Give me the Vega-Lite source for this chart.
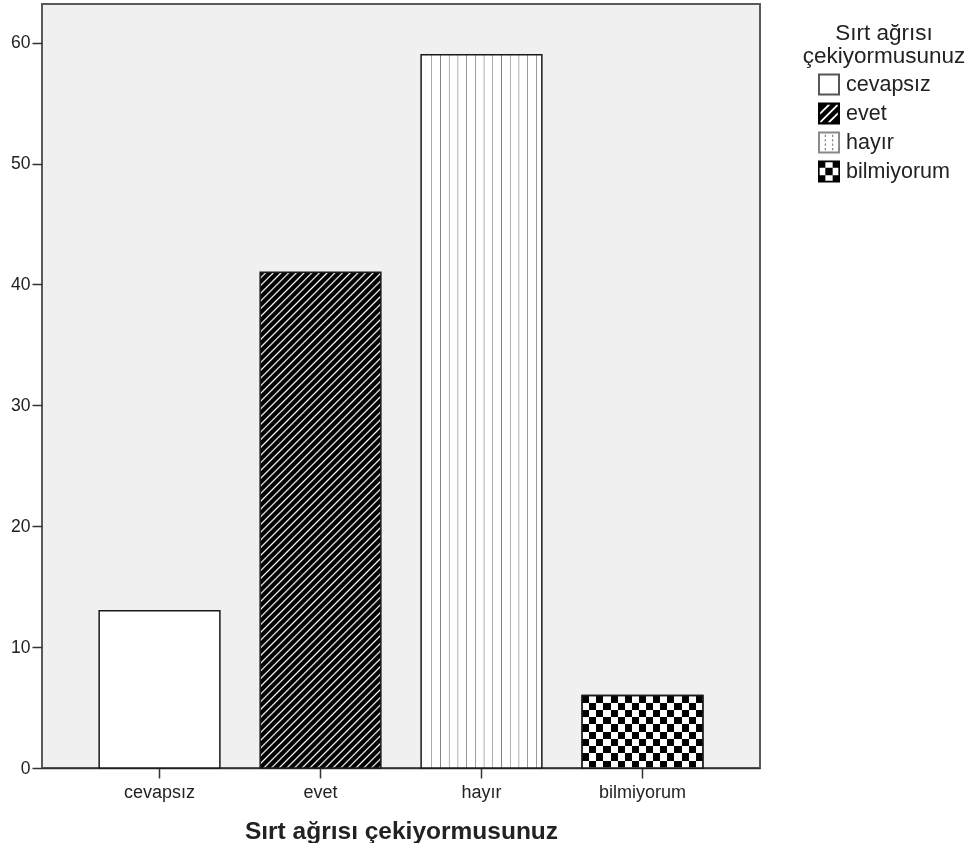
{
  "$schema": "https://vega.github.io/schema/vega-lite/v6.json",
  "width": 718,
  "height": 764,
  "padding": {"left": 10, "top": 4, "right": 0, "bottom": 0},
  "data": {
    "values": [
      {"cevap": "cevapsız", "frekans": 13},
      {"cevap": "evet", "frekans": 41},
      {"cevap": "hayır", "frekans": 59},
      {"cevap": "bilmiyorum", "frekans": 6}
    ]
  },
  "encoding": {
    "x": {
      "field": "cevap",
      "type": "nominal",
      "sort": ["cevapsız", "evet", "hayır", "bilmiyorum"],
      "scale": {"paddingInner": 0.25, "paddingOuter": 0.355},
      "axis": {
        "title": "Sırt ağrısı çekiyormusunuz",
        "titleFontSize": 24.5,
        "titleFontWeight": "bold",
        "titleColor": "#222222",
        "titlePadding": 18,
        "labelAngle": 0,
        "labelFontSize": 18,
        "labelColor": "#222222",
        "labelPadding": 5,
        "tickSize": 10,
        "tickWidth": 1.5,
        "tickColor": "#333333",
        "domainColor": "#333333",
        "domainWidth": 1.5
      }
    },
    "y": {
      "field": "frekans",
      "type": "quantitative",
      "scale": {"domain": [0, 63.2], "nice": false},
      "axis": {
        "title": null,
        "values": [0, 10, 20, 30, 40, 50, 60],
        "labelFontSize": 17.5,
        "labelColor": "#222222",
        "labelPadding": 2,
        "tickSize": 10,
        "tickWidth": 1.5,
        "tickColor": "#333333",
        "domain": false,
        "grid": false
      }
    }
  },
  "layer": [
    {
      "mark": {"type": "point", "filled": true, "opacity": 1, "size": 484, "strokeWidth": 0, "clip": true},
      "encoding": {
        "y": {"datum": 0, "type": "quantitative"},
        "fill": {
          "field": "cevap",
          "type": "nominal",
          "scale": {
            "domain": ["cevapsız", "evet", "hayır", "bilmiyorum"],
            "range": ["#555555", "#000000", "#8a8a8a", "#000000"]
          },
          "legend": {
            "title": ["Sırt ağrısı", "çekiyormusunuz"],
            "orient": "none",
            "legendX": 761,
            "legendY": 18,
            "direction": "vertical",
            "padding": 0,
            "titleFontSize": 22.5,
            "titleFontWeight": "normal",
            "titleColor": "#222222",
            "titleLineHeight": 23,
            "titleAnchor": "middle",
            "titleAlign": "center",
            "titlePadding": 6,
            "labelFontSize": 21.5,
            "labelColor": "#222222",
            "labelOffset": 6,
            "symbolSize": 484,
            "symbolOpacity": 1,
            "symbolStrokeWidth": 0,
            "rowPadding": 7
          }
        },
        "shape": {
          "field": "cevap",
          "type": "nominal",
          "scale": {
            "domain": ["cevapsız", "evet", "hayır", "bilmiyorum"],
            "range": [
              "M-1,-1H1V1H-1Z M-0.82,-0.82V0.82H0.82V-0.82Z",
              "M-1,-1H1V1H-1Z M-0.8,0.12L0.12,-0.8L-0.12,-0.8L-0.8,-0.12Z M-0.8,0.8L-0.68,0.8L0.8,-0.68L0.8,-0.8L0.68,-0.8L-0.8,0.68Z M0.12,0.8L0.8,0.12L0.8,-0.12L-0.12,0.8Z",
              "M-1,-1H1V1H-1Z M-0.82,-0.82V0.82H0.82V-0.82Z M-0.39,-0.7H-0.27V-0.5H-0.39Z M-0.39,-0.3H-0.27V-0.1H-0.39Z M-0.39,0.1H-0.27V0.3H-0.39Z M-0.39,0.5H-0.27V0.7H-0.39Z M0.27,-0.7H0.39V-0.5H0.27Z M0.27,-0.3H0.39V-0.1H0.27Z M0.27,0.1H0.39V0.3H0.27Z M0.27,0.5H0.39V0.7H0.27Z",
              "M-1,-1H1V1H-1Z M-0.85,-0.85V0.85H0.85V-0.85Z M-1,-1H-0.333V-0.333H-1Z M0.333,-1H1V-0.333H0.333Z M-0.333,-0.333H0.333V0.333H-0.333Z M-1,0.333H-0.333V1H-1Z M0.333,0.333H1V1H0.333Z"
            ]
          },
          "legend": {"title": ["Sırt ağrısı", "çekiyormusunuz"]}
        }
      }
    },
    {
      "mark": {"type": "bar", "stroke": "#1a1a1a", "strokeWidth": 1.5},
      "encoding": {
        "fill": {
          "condition": [
            {
              "test": "datum.cevap === 'evet'",
              "value": {
                "gradient": "linear", "x1": 0, "y1": 0, "x2": 0.2866, "y2": 1.174,
                "stops": [
                  {"offset":0,"color":"#000"},{"offset":0.007,"color":"#000"},{"offset":0.0097,"color":"#fff"},
                  {"offset":0.0125,"color":"#000"},{"offset":0.0195,"color":"#000"},{"offset":0.0222,"color":"#fff"},
                  {"offset":0.025,"color":"#000"},{"offset":0.032,"color":"#000"},{"offset":0.0347,"color":"#fff"},
                  {"offset":0.0375,"color":"#000"},{"offset":0.0445,"color":"#000"},{"offset":0.0472,"color":"#fff"},
                  {"offset":0.05,"color":"#000"},{"offset":0.057,"color":"#000"},{"offset":0.0597,"color":"#fff"},
                  {"offset":0.0625,"color":"#000"},{"offset":0.0695,"color":"#000"},{"offset":0.0722,"color":"#fff"},
                  {"offset":0.075,"color":"#000"},{"offset":0.082,"color":"#000"},{"offset":0.0847,"color":"#fff"},
                  {"offset":0.0875,"color":"#000"},{"offset":0.0945,"color":"#000"},{"offset":0.0972,"color":"#fff"},
                  {"offset":0.1,"color":"#000"},{"offset":0.107,"color":"#000"},{"offset":0.1097,"color":"#fff"},
                  {"offset":0.1125,"color":"#000"},{"offset":0.1195,"color":"#000"},{"offset":0.1222,"color":"#fff"},
                  {"offset":0.125,"color":"#000"},{"offset":0.132,"color":"#000"},{"offset":0.1347,"color":"#fff"},
                  {"offset":0.1375,"color":"#000"},{"offset":0.1445,"color":"#000"},{"offset":0.1472,"color":"#fff"},
                  {"offset":0.15,"color":"#000"},{"offset":0.157,"color":"#000"},{"offset":0.1597,"color":"#fff"},
                  {"offset":0.1625,"color":"#000"},{"offset":0.1695,"color":"#000"},{"offset":0.1722,"color":"#fff"},
                  {"offset":0.175,"color":"#000"},{"offset":0.182,"color":"#000"},{"offset":0.1847,"color":"#fff"},
                  {"offset":0.1875,"color":"#000"},{"offset":0.1945,"color":"#000"},{"offset":0.1972,"color":"#fff"},
                  {"offset":0.2,"color":"#000"},{"offset":0.207,"color":"#000"},{"offset":0.2097,"color":"#fff"},
                  {"offset":0.2125,"color":"#000"},{"offset":0.2195,"color":"#000"},{"offset":0.2222,"color":"#fff"},
                  {"offset":0.225,"color":"#000"},{"offset":0.232,"color":"#000"},{"offset":0.2347,"color":"#fff"},
                  {"offset":0.2375,"color":"#000"},{"offset":0.2445,"color":"#000"},{"offset":0.2472,"color":"#fff"},
                  {"offset":0.25,"color":"#000"},{"offset":0.257,"color":"#000"},{"offset":0.2597,"color":"#fff"},
                  {"offset":0.2625,"color":"#000"},{"offset":0.2695,"color":"#000"},{"offset":0.2722,"color":"#fff"},
                  {"offset":0.275,"color":"#000"},{"offset":0.282,"color":"#000"},{"offset":0.2847,"color":"#fff"},
                  {"offset":0.2875,"color":"#000"},{"offset":0.2945,"color":"#000"},{"offset":0.2972,"color":"#fff"},
                  {"offset":0.3,"color":"#000"},{"offset":0.307,"color":"#000"},{"offset":0.3097,"color":"#fff"},
                  {"offset":0.3125,"color":"#000"},{"offset":0.3195,"color":"#000"},{"offset":0.3222,"color":"#fff"},
                  {"offset":0.325,"color":"#000"},{"offset":0.332,"color":"#000"},{"offset":0.3347,"color":"#fff"},
                  {"offset":0.3375,"color":"#000"},{"offset":0.3445,"color":"#000"},{"offset":0.3472,"color":"#fff"},
                  {"offset":0.35,"color":"#000"},{"offset":0.357,"color":"#000"},{"offset":0.3597,"color":"#fff"},
                  {"offset":0.3625,"color":"#000"},{"offset":0.3695,"color":"#000"},{"offset":0.3722,"color":"#fff"},
                  {"offset":0.375,"color":"#000"},{"offset":0.382,"color":"#000"},{"offset":0.3847,"color":"#fff"},
                  {"offset":0.3875,"color":"#000"},{"offset":0.3945,"color":"#000"},{"offset":0.3972,"color":"#fff"},
                  {"offset":0.4,"color":"#000"},{"offset":0.407,"color":"#000"},{"offset":0.4097,"color":"#fff"},
                  {"offset":0.4125,"color":"#000"},{"offset":0.4195,"color":"#000"},{"offset":0.4222,"color":"#fff"},
                  {"offset":0.425,"color":"#000"},{"offset":0.432,"color":"#000"},{"offset":0.4347,"color":"#fff"},
                  {"offset":0.4375,"color":"#000"},{"offset":0.4445,"color":"#000"},{"offset":0.4472,"color":"#fff"},
                  {"offset":0.45,"color":"#000"},{"offset":0.457,"color":"#000"},{"offset":0.4597,"color":"#fff"},
                  {"offset":0.4625,"color":"#000"},{"offset":0.4695,"color":"#000"},{"offset":0.4722,"color":"#fff"},
                  {"offset":0.475,"color":"#000"},{"offset":0.482,"color":"#000"},{"offset":0.4847,"color":"#fff"},
                  {"offset":0.4875,"color":"#000"},{"offset":0.4945,"color":"#000"},{"offset":0.4972,"color":"#fff"},
                  {"offset":0.5,"color":"#000"},{"offset":0.507,"color":"#000"},{"offset":0.5097,"color":"#fff"},
                  {"offset":0.5125,"color":"#000"},{"offset":0.5195,"color":"#000"},{"offset":0.5222,"color":"#fff"},
                  {"offset":0.525,"color":"#000"},{"offset":0.532,"color":"#000"},{"offset":0.5347,"color":"#fff"},
                  {"offset":0.5375,"color":"#000"},{"offset":0.5445,"color":"#000"},{"offset":0.5472,"color":"#fff"},
                  {"offset":0.55,"color":"#000"},{"offset":0.557,"color":"#000"},{"offset":0.5597,"color":"#fff"},
                  {"offset":0.5625,"color":"#000"},{"offset":0.5695,"color":"#000"},{"offset":0.5722,"color":"#fff"},
                  {"offset":0.575,"color":"#000"},{"offset":0.582,"color":"#000"},{"offset":0.5847,"color":"#fff"},
                  {"offset":0.5875,"color":"#000"},{"offset":0.5945,"color":"#000"},{"offset":0.5972,"color":"#fff"},
                  {"offset":0.6,"color":"#000"},{"offset":0.607,"color":"#000"},{"offset":0.6097,"color":"#fff"},
                  {"offset":0.6125,"color":"#000"},{"offset":0.6195,"color":"#000"},{"offset":0.6222,"color":"#fff"},
                  {"offset":0.625,"color":"#000"},{"offset":0.632,"color":"#000"},{"offset":0.6347,"color":"#fff"},
                  {"offset":0.6375,"color":"#000"},{"offset":0.6445,"color":"#000"},{"offset":0.6472,"color":"#fff"},
                  {"offset":0.65,"color":"#000"},{"offset":0.657,"color":"#000"},{"offset":0.6597,"color":"#fff"},
                  {"offset":0.6625,"color":"#000"},{"offset":0.6695,"color":"#000"},{"offset":0.6722,"color":"#fff"},
                  {"offset":0.675,"color":"#000"},{"offset":0.682,"color":"#000"},{"offset":0.6847,"color":"#fff"},
                  {"offset":0.6875,"color":"#000"},{"offset":0.6945,"color":"#000"},{"offset":0.6972,"color":"#fff"},
                  {"offset":0.7,"color":"#000"},{"offset":0.707,"color":"#000"},{"offset":0.7097,"color":"#fff"},
                  {"offset":0.7125,"color":"#000"},{"offset":0.7195,"color":"#000"},{"offset":0.7222,"color":"#fff"},
                  {"offset":0.725,"color":"#000"},{"offset":0.732,"color":"#000"},{"offset":0.7347,"color":"#fff"},
                  {"offset":0.7375,"color":"#000"},{"offset":0.7445,"color":"#000"},{"offset":0.7472,"color":"#fff"},
                  {"offset":0.75,"color":"#000"},{"offset":0.757,"color":"#000"},{"offset":0.7597,"color":"#fff"},
                  {"offset":0.7625,"color":"#000"},{"offset":0.7695,"color":"#000"},{"offset":0.7722,"color":"#fff"},
                  {"offset":0.775,"color":"#000"},{"offset":0.782,"color":"#000"},{"offset":0.7847,"color":"#fff"},
                  {"offset":0.7875,"color":"#000"},{"offset":0.7945,"color":"#000"},{"offset":0.7972,"color":"#fff"},
                  {"offset":0.8,"color":"#000"},{"offset":0.807,"color":"#000"},{"offset":0.8097,"color":"#fff"},
                  {"offset":0.8125,"color":"#000"},{"offset":0.8195,"color":"#000"},{"offset":0.8222,"color":"#fff"},
                  {"offset":0.825,"color":"#000"},{"offset":0.832,"color":"#000"},{"offset":0.8347,"color":"#fff"},
                  {"offset":0.8375,"color":"#000"},{"offset":0.8445,"color":"#000"},{"offset":0.8472,"color":"#fff"},
                  {"offset":0.85,"color":"#000"},{"offset":0.857,"color":"#000"},{"offset":0.8597,"color":"#fff"},
                  {"offset":0.8625,"color":"#000"},{"offset":0.8695,"color":"#000"},{"offset":0.8722,"color":"#fff"},
                  {"offset":0.875,"color":"#000"},{"offset":0.882,"color":"#000"},{"offset":0.8847,"color":"#fff"},
                  {"offset":0.8875,"color":"#000"},{"offset":0.8945,"color":"#000"},{"offset":0.8972,"color":"#fff"},
                  {"offset":0.9,"color":"#000"},{"offset":0.907,"color":"#000"},{"offset":0.9097,"color":"#fff"},
                  {"offset":0.9125,"color":"#000"},{"offset":0.9195,"color":"#000"},{"offset":0.9222,"color":"#fff"},
                  {"offset":0.925,"color":"#000"},{"offset":0.932,"color":"#000"},{"offset":0.9347,"color":"#fff"},
                  {"offset":0.9375,"color":"#000"},{"offset":0.9445,"color":"#000"},{"offset":0.9472,"color":"#fff"},
                  {"offset":0.95,"color":"#000"},{"offset":0.957,"color":"#000"},{"offset":0.9597,"color":"#fff"},
                  {"offset":0.9625,"color":"#000"},{"offset":0.9695,"color":"#000"},{"offset":0.9722,"color":"#fff"},
                  {"offset":0.975,"color":"#000"},{"offset":0.982,"color":"#000"},{"offset":0.9847,"color":"#fff"},
                  {"offset":0.9875,"color":"#000"},{"offset":0.9945,"color":"#000"},{"offset":0.9972,"color":"#fff"},
                  {"offset":1,"color":"#000"}
                ]
              }
            },
            {
              "test": "datum.cevap === 'hayır'",
              "value": {
                "gradient": "linear", "x1": 0, "y1": 0, "x2": 1, "y2": 0,
                "stops": [
                  {"offset":0,"color":"#fff"},
                  {"offset":0.082,"color":"#fff"},{"offset":0.088,"color":"#808080"},{"offset":0.094,"color":"#fff"},
                  {"offset":0.1542,"color":"#fff"},{"offset":0.1602,"color":"#808080"},{"offset":0.1662,"color":"#fff"},
                  {"offset":0.2264,"color":"#fff"},{"offset":0.2324,"color":"#808080"},{"offset":0.2384,"color":"#fff"},
                  {"offset":0.2986,"color":"#fff"},{"offset":0.3046,"color":"#808080"},{"offset":0.3106,"color":"#fff"},
                  {"offset":0.3708,"color":"#fff"},{"offset":0.3768,"color":"#808080"},{"offset":0.3828,"color":"#fff"},
                  {"offset":0.443,"color":"#fff"},{"offset":0.449,"color":"#808080"},{"offset":0.455,"color":"#fff"},
                  {"offset":0.5152,"color":"#fff"},{"offset":0.5212,"color":"#808080"},{"offset":0.5272,"color":"#fff"},
                  {"offset":0.5874,"color":"#fff"},{"offset":0.5934,"color":"#808080"},{"offset":0.5994,"color":"#fff"},
                  {"offset":0.6596,"color":"#fff"},{"offset":0.6656,"color":"#808080"},{"offset":0.6716,"color":"#fff"},
                  {"offset":0.7318,"color":"#fff"},{"offset":0.7378,"color":"#808080"},{"offset":0.7438,"color":"#fff"},
                  {"offset":0.804,"color":"#fff"},{"offset":0.81,"color":"#808080"},{"offset":0.816,"color":"#fff"},
                  {"offset":0.8762,"color":"#fff"},{"offset":0.8822,"color":"#808080"},{"offset":0.8882,"color":"#fff"},
                  {"offset":0.9484,"color":"#fff"},{"offset":0.9544,"color":"#808080"},{"offset":0.9604,"color":"#fff"},
                  {"offset":1,"color":"#fff"}
                ]
              }
            },
            {
              "test": "datum.cevap === 'bilmiyorum'",
              "value": {
                "gradient": "linear", "x1": 0, "y1": 0, "x2": 1, "y2": 0,
                "stops": [
                  {"offset":0,"color":"#000"},{"offset":0.0588,"color":"#000"},
                  {"offset":0.0588,"color":"#fff"},{"offset":0.1176,"color":"#fff"},
                  {"offset":0.1176,"color":"#000"},{"offset":0.1765,"color":"#000"},
                  {"offset":0.1765,"color":"#fff"},{"offset":0.2353,"color":"#fff"},
                  {"offset":0.2353,"color":"#000"},{"offset":0.2941,"color":"#000"},
                  {"offset":0.2941,"color":"#fff"},{"offset":0.3529,"color":"#fff"},
                  {"offset":0.3529,"color":"#000"},{"offset":0.4118,"color":"#000"},
                  {"offset":0.4118,"color":"#fff"},{"offset":0.4706,"color":"#fff"},
                  {"offset":0.4706,"color":"#000"},{"offset":0.5294,"color":"#000"},
                  {"offset":0.5294,"color":"#fff"},{"offset":0.5882,"color":"#fff"},
                  {"offset":0.5882,"color":"#000"},{"offset":0.6471,"color":"#000"},
                  {"offset":0.6471,"color":"#fff"},{"offset":0.7059,"color":"#fff"},
                  {"offset":0.7059,"color":"#000"},{"offset":0.7647,"color":"#000"},
                  {"offset":0.7647,"color":"#fff"},{"offset":0.8235,"color":"#fff"},
                  {"offset":0.8235,"color":"#000"},{"offset":0.8824,"color":"#000"},
                  {"offset":0.8824,"color":"#fff"},{"offset":0.9412,"color":"#fff"},
                  {"offset":0.9412,"color":"#000"},{"offset":1,"color":"#000"}
                ]
              }
            }
          ],
          "value": "#ffffff"
        }
      }
    },
    {
      "transform": [{"filter": "datum.cevap === 'bilmiyorum'"}],
      "mark": {
        "type": "bar",
        "blend": "difference",
        "strokeWidth": 0,
        "fill": {
          "gradient": "linear", "x1": 0, "y1": 0, "x2": 0, "y2": 1,
          "stops": [
            {"offset":0,"color":"#000"},{"offset":0.1,"color":"#000"},
            {"offset":0.1,"color":"#fff"},{"offset":0.2,"color":"#fff"},
            {"offset":0.2,"color":"#000"},{"offset":0.3,"color":"#000"},
            {"offset":0.3,"color":"#fff"},{"offset":0.4,"color":"#fff"},
            {"offset":0.4,"color":"#000"},{"offset":0.5,"color":"#000"},
            {"offset":0.5,"color":"#fff"},{"offset":0.6,"color":"#fff"},
            {"offset":0.6,"color":"#000"},{"offset":0.7,"color":"#000"},
            {"offset":0.7,"color":"#fff"},{"offset":0.8,"color":"#fff"},
            {"offset":0.8,"color":"#000"},{"offset":0.9,"color":"#000"},
            {"offset":0.9,"color":"#fff"},{"offset":1,"color":"#fff"}
          ]
        }
      }
    },
    {
      "transform": [{"filter": "datum.cevap === 'bilmiyorum'"}],
      "mark": {"type": "bar", "filled": false, "stroke": "#1a1a1a", "strokeWidth": 1.5}
    }
  ],
  "config": {
    "font": "Liberation Sans",
    "view": {"stroke": "#5a5a5a", "strokeWidth": 2, "fill": "#f0f0f0"},
    "axis": {"grid": false}
  }
}
